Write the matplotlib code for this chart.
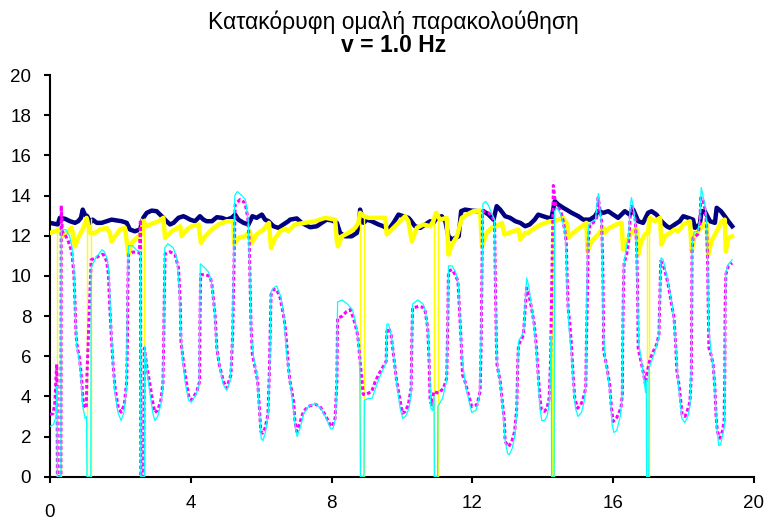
import numpy as np
import matplotlib.pyplot as plt

plt.rcParams["font.family"] = ["Liberation Sans", "DejaVu Sans"]

title_line1 = "Κατακόρυφη ομαλή παρακολούθηση"
title_line2 = "v = 1.0 Hz"
x_ticks = [0, 4, 8, 12, 16, 20]
y_ticks = [0, 2, 4, 6, 8, 10, 12, 14, 16, 18, 20]

# eye position trace (magenta), (time s, value)
magenta = [
    (0.0, 3.1), (0.09, 3.15), (0.14, 3.7), (0.19, 5.6), (0.2, 5.0), (0.21, 0.0),
    (0.31, 0.0), (0.32, 13.5), (0.35, 12.2), (0.43, 12.06), (0.52, 11.72),
    (0.62, 11.2), (0.68, 10.06), (0.71, 8.7), (0.74, 7.07), (0.78, 6.4),
    (0.83, 6.0), (0.88, 5.24), (0.92, 4.25), (0.95, 3.58), (1.03, 3.41),
    (1.05, 5.0), (1.17, 10.8), (1.3, 10.9), (1.47, 11.06), (1.52, 11.06),
    (1.61, 10.73), (1.66, 10.06), (1.70, 8.4), (1.75, 6.74), (1.80, 5.41),
    (1.85, 4.41), (1.94, 3.41), (2.02, 3.21), (2.11, 3.58), (2.18, 4.74),
    (2.20, 6.74), (2.21, 9.23), (2.23, 11.06), (2.37, 11.19), (2.54, 11.14),
    (2.57, 12.8), (2.58, 0.0), (2.66, 0.0), (2.68, 6.4), (2.75, 5.5),
    (2.84, 4.6), (2.93, 3.6), (2.98, 3.2), (3.06, 3.3), (3.15, 3.8),
    (3.21, 4.7), (3.23, 6.7), (3.25, 9.2), (3.27, 11.1), (3.41, 11.2),
    (3.55, 11.06), (3.65, 10.4), (3.70, 8.73), (3.72, 6.74), (3.79, 5.74),
    (3.87, 4.74), (3.95, 3.91), (4.03, 3.83), (4.17, 4.24), (4.25, 4.74),
    (4.26, 7.57), (4.28, 10.06), (4.41, 10.06), (4.55, 9.98), (4.60, 9.56),
    (4.69, 8.07), (4.74, 6.4), (4.81, 5.57), (4.93, 4.74), (5.02, 4.41),
    (5.14, 5.07), (5.19, 7.07), (5.23, 10.9), (5.26, 13.55), (5.40, 13.8),
    (5.54, 13.64), (5.62, 12.89), (5.66, 11.72), (5.68, 10.06), (5.71, 7.57),
    (5.75, 6.07), (5.83, 5.41), (5.90, 4.74), (5.95, 3.41), (5.99, 2.25),
    (6.04, 2.17), (6.11, 2.42), (6.19, 3.08), (6.23, 5.07), (6.26, 7.57),
    (6.28, 9.07), (6.35, 9.32), (6.44, 9.32), (6.54, 8.9), (6.63, 8.07),
    (6.68, 7.5), (6.73, 6.5), (6.77, 5.5), (6.82, 4.74), (6.92, 3.75),
    (6.96, 2.75), (7.01, 2.25), (7.11, 2.75), (7.20, 3.25), (7.34, 3.5),
    (7.53, 3.61), (7.67, 3.5), (7.82, 3.08), (7.96, 2.58), (8.02, 2.5),
    (8.10, 2.91), (8.15, 4.74), (8.17, 7.9), (8.29, 7.98), (8.43, 8.23),
    (8.53, 8.32), (8.62, 7.9), (8.72, 7.24), (8.76, 6.74), (8.81, 5.74),
    (8.90, 4.1), (8.95, 4.08), (9.14, 4.24), (9.24, 4.74), (9.33, 5.07),
    (9.47, 5.49), (9.55, 5.74), (9.57, 7.24), (9.62, 7.4), (9.69, 7.07),
    (9.76, 6.07), (9.85, 4.74), (9.95, 3.75), (10.01, 3.16), (10.09, 3.25),
    (10.18, 3.58), (10.26, 4.41), (10.28, 6.74), (10.30, 8.4), (10.47, 8.48),
    (10.61, 8.43), (10.66, 8.23), (10.73, 7.4), (10.77, 5.74), (10.80, 3.75),
    (10.85, 3.58), (10.90, 4.24), (11.04, 4.16), (11.18, 4.41), (11.27, 4.91),
    (11.30, 7.57), (11.32, 10.23), (11.42, 10.31), (11.51, 10.06),
    (11.59, 9.73), (11.63, 8.4), (11.68, 6.74), (11.72, 5.07), (11.79, 4.74),
    (11.89, 4.08), (11.98, 3.5), (12.13, 3.58), (12.22, 4.24), (12.25, 6.74),
    (12.27, 10.06), (12.29, 13.22), (12.46, 13.14), (12.55, 12.97),
    (12.63, 12.72), (12.65, 10.06), (12.68, 6.74), (12.70, 5.57),
    (12.79, 4.74), (12.85, 3.75), (12.91, 2.75), (12.93, 1.75), (13.03, 1.5),
    (13.12, 1.75), (13.20, 2.25), (13.26, 3.41), (13.29, 5.74), (13.31, 6.57),
    (13.39, 6.82), (13.45, 7.07), (13.50, 8.4), (13.54, 9.4), (13.60, 9.1),
    (13.68, 8.4), (13.76, 7.57), (13.82, 6.4), (13.87, 5.07), (13.92, 3.91),
    (13.96, 3.33), (14.04, 3.25), (14.12, 3.41), (14.18, 3.91), (14.22, 5.74),
    (14.30, 14.5), (14.36, 13.55), (14.44, 13.39), (14.51, 13.22),
    (14.58, 12.72), (14.63, 12.22), (14.67, 11.56), (14.69, 10.06),
    (14.72, 8.4), (14.77, 7.57), (14.82, 6.4), (14.86, 5.07), (14.91, 3.91),
    (14.99, 3.41), (15.08, 3.58), (15.15, 3.91), (15.22, 4.41), (15.24, 6.74),
    (15.27, 9.23), (15.29, 11.72), (15.34, 12.56), (15.43, 12.64),
    (15.53, 12.89), (15.57, 13.89), (15.62, 13.39), (15.67, 12.72),
    (15.70, 10.9), (15.72, 8.4), (15.73, 6.24), (15.81, 5.57), (15.90, 4.58),
    (15.95, 3.41), (16.00, 2.75), (16.09, 2.91), (16.22, 3.41), (16.26, 4.08),
    (16.27, 6.74), (16.29, 9.23), (16.31, 10.64), (16.38, 11.06),
    (16.44, 11.72), (16.50, 13.39), (16.54, 13.47), (16.62, 12.89),
    (16.66, 11.72), (16.69, 9.73), (16.71, 6.4), (16.79, 5.74), (16.85, 5.24),
    (16.92, 4.58), (16.94, 5.0), (17.04, 5.82), (17.14, 6.24), (17.23, 6.57),
    (17.30, 7.07), (17.33, 9.23), (17.35, 10.73), (17.42, 10.56),
    (17.52, 9.9), (17.58, 9.4), (17.66, 8.57), (17.73, 7.9), (17.78, 6.4),
    (17.81, 5.24), (17.87, 4.58), (17.92, 3.75), (17.96, 3.08), (18.04, 3.0),
    (18.13, 3.41), (18.18, 3.75), (18.22, 5.07), (18.23, 8.4), (18.24, 11.23),
    (18.27, 11.89), (18.32, 11.97), (18.40, 12.06), (18.46, 12.56),
    (18.49, 13.89), (18.56, 13.72), (18.62, 13.22), (18.65, 12.56),
    (18.68, 10.9), (18.70, 8.4), (18.72, 6.4), (18.78, 6.07), (18.84, 5.57),
    (18.89, 4.41), (18.92, 3.08), (18.96, 2.25), (19.03, 1.92), (19.10, 2.25),
    (19.15, 2.75), (19.17, 5.07), (19.18, 8.4), (19.20, 10.06), (19.27, 10.48),
    (19.38, 10.64),
]

# second eye trace (cyan), includes blinks down to 0
cyan = [
    (0.0, 2.5), (0.1, 2.6), (0.17, 3.0), (0.2, 4.5), (0.21, 0.0), (0.31, 0.0),
    (0.32, 12.3), (0.45, 12.3), (0.55, 12.0), (0.62, 11.5), (0.68, 10.3),
    (0.72, 8.0), (0.76, 6.5), (0.83, 5.8), (0.88, 5.0), (0.93, 3.5),
    (1.0, 2.9), (1.04, 3.0), (1.05, 0.0), (1.16, 0.0), (1.17, 10.4),
    (1.3, 10.9), (1.48, 11.3), (1.55, 11.2), (1.63, 10.8), (1.68, 10.0),
    (1.72, 8.0), (1.78, 6.0), (1.84, 4.3), (1.93, 3.2), (2.02, 2.8),
    (2.1, 3.2), (2.17, 4.4), (2.19, 7.0), (2.21, 10.5), (2.23, 11.5),
    (2.35, 11.5), (2.45, 11.3), (2.57, 11.2), (2.58, 0.0), (2.68, 0.0),
    (2.69, 6.5), (2.76, 5.2), (2.85, 4.0), (2.93, 3.1), (2.98, 2.8),
    (3.06, 3.0), (3.15, 3.6), (3.21, 4.5), (3.24, 8.0), (3.26, 11.4),
    (3.35, 11.6), (3.5, 11.4), (3.6, 10.9), (3.67, 9.5), (3.71, 7.5),
    (3.76, 6.0), (3.85, 4.6), (3.94, 3.8), (4.01, 3.7), (4.15, 4.1),
    (4.24, 4.6), (4.25, 7.5), (4.27, 10.6), (4.4, 10.4), (4.5, 10.2),
    (4.58, 9.8), (4.68, 8.2), (4.73, 6.5), (4.8, 5.7), (4.92, 4.6),
    (5.02, 4.3), (5.12, 4.8), (5.18, 6.8), (5.22, 11.0), (5.25, 14.0),
    (5.32, 14.2), (5.45, 14.0), (5.55, 13.8), (5.63, 12.8), (5.68, 10.0),
    (5.72, 7.0), (5.78, 6.0), (5.88, 5.0), (5.95, 3.3), (6.0, 1.9),
    (6.05, 1.8), (6.12, 2.2), (6.2, 3.2), (6.25, 6.0), (6.28, 9.2),
    (6.35, 9.4), (6.44, 9.5), (6.55, 9.0), (6.64, 8.1), (6.72, 6.2),
    (6.8, 5.0), (6.9, 3.6), (6.97, 2.5), (7.02, 2.0), (7.12, 2.5),
    (7.2, 3.1), (7.34, 3.5), (7.53, 3.65), (7.7, 3.4), (7.85, 2.9),
    (7.97, 2.4), (8.04, 2.4), (8.11, 2.9), (8.15, 5.0), (8.17, 8.7),
    (8.3, 8.8), (8.45, 8.6), (8.6, 8.3), (8.72, 7.3), (8.8, 6.0),
    (8.82, 0.0), (8.92, 0.0), (8.93, 3.8), (9.05, 3.9), (9.15, 3.9),
    (9.25, 4.4), (9.35, 4.9), (9.48, 5.4), (9.55, 5.7), (9.57, 7.6),
    (9.62, 7.6), (9.7, 7.0), (9.78, 5.8), (9.86, 4.5), (9.95, 3.4),
    (10.02, 2.9), (10.1, 3.0), (10.2, 3.4), (10.26, 4.2), (10.28, 7.0),
    (10.3, 8.6), (10.45, 8.8), (10.6, 8.6), (10.67, 8.2), (10.74, 7.2),
    (10.78, 5.5), (10.82, 3.4), (10.87, 3.3), (10.91, 4.0), (10.92, 0.0),
    (11.01, 0.0), (11.02, 3.5), (11.15, 3.9), (11.27, 4.8), (11.3, 8.0),
    (11.32, 10.5), (11.42, 10.5), (11.52, 10.2), (11.6, 9.6), (11.64, 8.2),
    (11.7, 6.0), (11.8, 4.6), (11.9, 3.8), (11.98, 3.2), (12.1, 3.3),
    (12.2, 4.0), (12.25, 7.0), (12.28, 11.0), (12.3, 13.6), (12.38, 13.7),
    (12.46, 13.5), (12.55, 13.1), (12.63, 12.8), (12.65, 10.0), (12.68, 6.5),
    (12.72, 5.4), (12.8, 4.5), (12.87, 3.3), (12.93, 1.8), (13.0, 1.15),
    (13.05, 1.1), (13.13, 1.4), (13.2, 2.0), (13.26, 3.2), (13.29, 5.8),
    (13.32, 6.8), (13.4, 7.0), (13.46, 7.3), (13.5, 8.6), (13.54, 9.9),
    (13.6, 9.5), (13.68, 8.5), (13.76, 7.4), (13.82, 6.2), (13.87, 4.8),
    (13.92, 3.4), (13.97, 2.8), (14.05, 2.8), (14.12, 3.0), (14.18, 3.6),
    (14.22, 5.5), (14.24, 7.0), (14.25, 0.0), (14.32, 0.0), (14.33, 13.2),
    (14.4, 13.4), (14.5, 13.1), (14.58, 12.6), (14.63, 12.2), (14.67, 11.0),
    (14.7, 9.0), (14.75, 7.3), (14.82, 6.0), (14.87, 4.6), (14.93, 3.4),
    (15.0, 3.0), (15.1, 3.2), (15.17, 3.7), (15.22, 4.4), (15.24, 7.5),
    (15.27, 11.0), (15.3, 12.5), (15.4, 12.7), (15.5, 12.8), (15.55, 13.8),
    (15.58, 14.1), (15.63, 13.2), (15.67, 12.5), (15.7, 10.0), (15.72, 7.5),
    (15.76, 6.0), (15.84, 5.2), (15.92, 4.0), (15.97, 2.6), (16.02, 2.2),
    (16.1, 2.3), (16.2, 3.0), (16.25, 3.9), (16.27, 7.0), (16.3, 10.5),
    (16.38, 11.5), (16.44, 12.0), (16.48, 13.4), (16.52, 13.9), (16.58, 13.3),
    (16.63, 12.6), (16.67, 11.0), (16.7, 8.5), (16.73, 6.6), (16.8, 5.8),
    (16.86, 5.0), (16.92, 4.2), (16.94, 4.8), (16.95, 0.0), (17.01, 0.0),
    (17.02, 5.4), (17.1, 5.8), (17.2, 6.3), (17.3, 7.0), (17.33, 9.5),
    (17.36, 10.9), (17.42, 10.8), (17.52, 10.0), (17.6, 9.3), (17.68, 8.5),
    (17.74, 7.5), (17.79, 6.2), (17.84, 4.8), (17.9, 3.8), (17.95, 2.9),
    (18.03, 2.7), (18.12, 3.0), (18.18, 3.5), (18.22, 5.5), (18.24, 11.5),
    (18.3, 12.2), (18.4, 12.2), (18.46, 12.8), (18.5, 14.4), (18.56, 13.9),
    (18.62, 13.4), (18.66, 12.5), (18.69, 10.0), (18.71, 7.5), (18.78, 6.2),
    (18.86, 5.2), (18.9, 4.0), (18.94, 2.5), (19.0, 1.55), (19.05, 1.6),
    (19.1, 2.0), (19.16, 2.5), (19.18, 6.0), (19.2, 10.2), (19.28, 10.6),
    (19.38, 10.8),
]

# target trace (navy)
navy = [
    (0.0, 12.64), (0.14, 12.59), (0.22, 12.56), (0.28, 12.89), (0.43, 12.84),
    (0.57, 12.72), (0.71, 12.64), (0.80, 12.72), (0.88, 12.89), (0.93, 13.3),
    (0.99, 13.05), (1.06, 12.97), (1.14, 12.64), (1.21, 12.8), (1.33, 12.64),
    (1.47, 12.64), (1.61, 12.72), (1.75, 12.8), (1.89, 12.76), (2.04, 12.72),
    (2.18, 12.64), (2.27, 12.31), (2.41, 12.22), (2.56, 12.31), (2.65, 12.89),
    (2.75, 13.14), (2.89, 13.25), (3.03, 13.22), (3.13, 13.05), (3.22, 12.89),
    (3.31, 12.72), (3.41, 12.56), (3.51, 12.64), (3.65, 12.89), (3.79, 12.97),
    (3.89, 12.89), (3.98, 12.8), (4.12, 12.72), (4.26, 12.97), (4.36, 12.8),
    (4.45, 12.72), (4.60, 12.72), (4.74, 12.92), (4.88, 12.89), (5.02, 12.8),
    (5.16, 12.89), (5.26, 13.05), (5.35, 12.8), (5.50, 12.64), (5.64, 12.56),
    (5.75, 12.97), (5.87, 12.89), (6.02, 13.05), (6.11, 12.8), (6.21, 12.72),
    (6.35, 12.47), (6.49, 12.39), (6.63, 12.56), (6.77, 12.72), (6.82, 12.8),
    (7.01, 12.86), (7.15, 12.64), (7.39, 12.42), (7.58, 12.47), (7.72, 12.64),
    (7.86, 12.8), (8.01, 12.76), (8.15, 12.64), (8.24, 12.14), (8.38, 11.97),
    (8.57, 11.97), (8.72, 12.14), (8.78, 12.56), (8.81, 13.3), (8.91, 12.64),
    (9.00, 12.8), (9.14, 12.72), (9.33, 12.56), (9.47, 12.47), (9.62, 12.31),
    (9.76, 12.64), (9.90, 13.05), (10.04, 12.97), (10.18, 12.89),
    (10.23, 12.8), (10.37, 12.47), (10.52, 12.39), (10.66, 12.56),
    (10.80, 12.72), (10.89, 12.64), (10.99, 12.89), (11.13, 12.97),
    (11.23, 12.72), (11.32, 11.97), (11.42, 11.81), (11.51, 11.89),
    (11.61, 11.97), (11.68, 13.22), (11.79, 13.3), (11.98, 13.25),
    (12.17, 13.22), (12.32, 13.22), (12.46, 13.05), (12.60, 12.8),
    (12.69, 13.47), (12.79, 13.3), (12.93, 12.97), (13.07, 12.89),
    (13.22, 12.72), (13.36, 12.64), (13.50, 12.47), (13.63, 12.56),
    (13.77, 12.8), (13.87, 13.05), (14.01, 12.97), (14.15, 12.89),
    (14.25, 12.89), (14.34, 13.72), (14.44, 13.55), (14.58, 13.39),
    (14.67, 13.3), (14.82, 13.14), (15.01, 12.97), (15.15, 12.8),
    (15.34, 12.8), (15.48, 12.97), (15.57, 13.22), (15.72, 13.14),
    (15.86, 13.22), (16.0, 13.05), (16.14, 12.89), (16.33, 13.22),
    (16.47, 13.05), (16.57, 13.3), (16.71, 12.72), (16.85, 12.64),
    (16.99, 13.14), (17.09, 13.22), (17.23, 13.05), (17.37, 12.72),
    (17.52, 12.47), (17.61, 12.39), (17.75, 12.56), (17.89, 12.72),
    (17.99, 12.97), (18.13, 12.89), (18.27, 12.8), (18.32, 12.39),
    (18.46, 12.56), (18.51, 13.22), (18.60, 13.22), (18.75, 12.72),
    (18.89, 12.64), (18.94, 13.39), (19.06, 13.22), (19.17, 12.97),
    (19.27, 12.72), (19.38, 12.47),
]

# head / reference trace (yellow), sawtooth
yellow = [
    (0.0, 12.14), (0.14, 12.22), (0.24, 12.31), (0.38, 11.97), (0.52, 12.22),
    (0.62, 12.39), (0.71, 11.47), (0.80, 11.89), (0.95, 12.39), (1.04, 12.89),
    (1.14, 12.14), (1.28, 12.14), (1.42, 12.31), (1.61, 12.39), (1.70, 12.14),
    (1.75, 11.72), (1.85, 11.97), (1.99, 12.31), (2.13, 12.39), (2.23, 11.06),
    (2.32, 11.64), (2.46, 11.89), (2.58, 12.06), (2.65, 12.72), (2.75, 12.47),
    (2.89, 12.59), (3.08, 12.72), (3.22, 12.89), (3.27, 11.89), (3.46, 12.22),
    (3.70, 12.47), (3.74, 11.97), (3.89, 12.31), (4.03, 12.47), (4.22, 12.56),
    (4.29, 11.64), (4.41, 11.97), (4.60, 12.31), (4.79, 12.56), (5.02, 12.72),
    (5.21, 12.72), (5.23, 11.56), (5.35, 11.89), (5.54, 11.97), (5.68, 12.22),
    (5.73, 11.64), (5.87, 12.06), (6.06, 12.31), (6.22, 12.64), (6.28, 11.39),
    (6.40, 11.89), (6.54, 12.22), (6.68, 12.35), (6.77, 12.22), (6.96, 12.56),
    (7.25, 12.64), (7.53, 12.72), (7.82, 12.89), (8.10, 12.8), (8.15, 11.72),
    (8.18, 11.47), (8.29, 11.97), (8.48, 12.14), (8.67, 12.39), (8.76, 12.64),
    (8.81, 13.14), (8.91, 12.97), (9.05, 12.89), (9.33, 12.89), (9.52, 12.89),
    (9.57, 12.06), (9.71, 12.31), (9.90, 12.64), (10.09, 12.97),
    (10.18, 12.72), (10.28, 11.72), (10.42, 12.39), (10.61, 12.56),
    (10.80, 12.47), (10.89, 12.72), (10.97, 13.14), (11.08, 12.8),
    (11.27, 12.89), (11.32, 11.06), (11.42, 11.56), (11.56, 11.97),
    (11.70, 12.89), (11.84, 13.05), (12.03, 13.22), (12.22, 13.25),
    (12.27, 11.47), (12.41, 12.14), (12.55, 12.39), (12.69, 12.47),
    (12.84, 12.64), (12.91, 12.06), (13.03, 12.14), (13.17, 12.22),
    (13.31, 12.31), (13.36, 11.81), (13.50, 12.14), (13.58, 12.14),
    (13.77, 12.39), (13.96, 12.56), (14.20, 12.72), (14.32, 12.72),
    (14.44, 12.8), (14.58, 12.89), (14.70, 12.56), (14.72, 11.89),
    (14.86, 12.14), (15.05, 12.39), (15.24, 12.64), (15.27, 11.22),
    (15.38, 11.72), (15.57, 12.06), (15.72, 12.39), (15.76, 12.14),
    (15.90, 12.39), (16.09, 12.56), (16.24, 12.64), (16.28, 11.31),
    (16.38, 11.72), (16.52, 12.14), (16.66, 12.39), (16.71, 11.06),
    (16.80, 11.72), (16.90, 12.06), (16.99, 12.14), (17.04, 12.89),
    (17.18, 12.72), (17.33, 12.89), (17.37, 11.56), (17.47, 11.97),
    (17.61, 12.14), (17.75, 12.31), (17.85, 12.22), (17.99, 12.56),
    (18.18, 12.72), (18.23, 11.22), (18.32, 12.06), (18.46, 12.31),
    (18.56, 12.56), (18.65, 12.64), (18.70, 11.06), (18.79, 11.72),
    (18.94, 12.22), (19.08, 12.72), (19.17, 12.8), (19.20, 11.22),
    (19.27, 11.89), (19.38, 11.97),
]

# blinks: yellow drops to zero at start and end of each
blink_start = [0.21, 1.05, 2.58, 8.82, 10.92, 14.25, 16.95]
blink_end = [0.31, 1.16, 2.67, 8.92, 11.01, 14.32, 17.01]
blink_top = [12.3, 12.9, 12.9, 13.1, 13.0, 12.8, 12.9]

mag_t, mag_v = np.array(magenta).T
cyan_t, cyan_v = np.array(cyan).T
navy_t, navy_v = np.array(navy).T
yel_t, yel_v = np.array(yellow).T

fig = plt.figure(figsize=(7.75, 5.21), dpi=100)
ax = fig.add_axes([0.0645, 0.085, 0.9084, 0.771])

ax.plot(navy_t, navy_v, color="#000080", lw=3.2, zorder=2)
ax.plot(yel_t, yel_v, color="#FFFF00", lw=3.2, zorder=3)
ax.vlines(blink_start + blink_end, 0, blink_top + blink_top,
          colors="#FFFF00", lw=1, zorder=3)
ax.plot(mag_t, mag_v, color="#FF00FF", lw=2.2,
        linestyle=(0, (1.2, 0.8)), zorder=4)
ax.plot(cyan_t, cyan_v, color="#00FFFF", lw=0.9, zorder=5)

ax.set_xlim(0, 20)
ax.set_ylim(0, 20)
ax.set_xticks(x_ticks)
ax.set_xticklabels([""] + [str(t) for t in x_ticks[1:]])
ax.set_yticks(y_ticks)

for side in ["top", "right"]:
    ax.spines[side].set_visible(False)
for side in ["left", "bottom"]:
    ax.spines[side].set_linewidth(1.5)

ax.tick_params(axis="both", direction="out", length=4.5, width=1.5,
               labelsize=13.5)
ax.tick_params(axis="y", pad=9)
ax.tick_params(axis="x", pad=9)

# the "0" label sits lower than the rest in the original
ax.annotate(str(x_ticks[0]), xy=(0, 0), xycoords="data",
            xytext=(0, -20), textcoords="offset points",
            ha="center", va="top", fontsize=13.5)

fig.text(0.508, 1 - 22 / 521, title_line1, ha="center", va="center",
         fontsize=16.5)
fig.text(0.508, 1 - 46 / 521, title_line2, ha="center", va="center",
         fontsize=16.5, fontweight="bold")

fig.savefig("out.png", dpi=100)
